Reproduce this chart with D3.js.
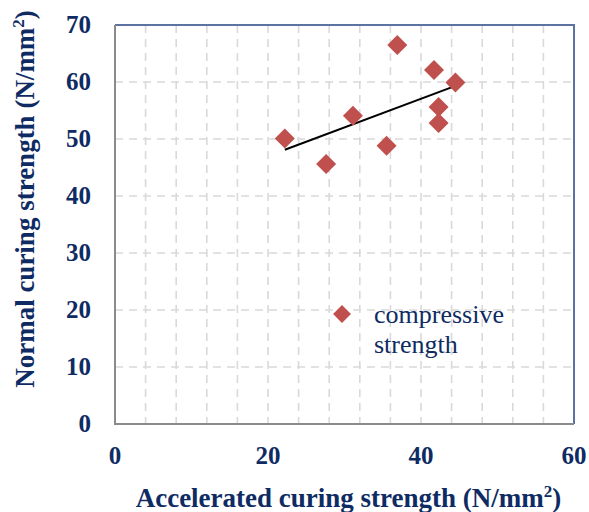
<!DOCTYPE html>
<html lang="en">
<head>
    <meta charset="UTF-8">
    <title>Normal vs accelerated curing strength</title>
    <style>
        body {
            margin: 0;
            background: #fff;
        }
        svg text {
            font-family: 'Liberation Serif', 'Times New Roman', serif;
            fill: #0e2b63;
        }
        .tick-label {
            font-size: 25px;
            font-weight: bold;
        }
        .axis-title {
            font-size: 27px;
            font-weight: bold;
        }
        .legend-text {
            font-size: 26px;
        }
    </style>
</head>
<body>
    <div id="chart"></div>
    <script src="https://d3js.org/d3.v7.min.js"></script>
    <script>
        // accelerated curing strength (x) and normal curing strength (y), N/mm2
        const accelerated = [22.2, 27.6, 31.1, 35.5, 36.9, 41.7, 44.5, 42.3, 42.3];
        const normal = [50.1, 45.6, 54.1, 48.8, 66.5, 62.1, 59.9, 55.6, 52.8];
        const xTicks = [0, 20, 40, 60];
        const yTicks = [0, 10, 20, 30, 40, 50, 60, 70];
        const xGrid = d3.range(4, 60, 4);
        const legendLabel = ["compressive", "strength"];

        const width = 589;
        const height = 512;
        const margin = {top: 25, right: 15, bottom: 88, left: 115};

        const svg = d3.select("#chart")
            .append("svg")
            .attr("width", width)
            .attr("height", height)
            .attr("font-family", "'Liberation Serif', 'Times New Roman', serif");

        const x = d3.scaleLinear()
            .domain([0, 60])
            .range([margin.left, width - margin.right]);

        const y = d3.scaleLinear()
            .domain([0, 70])
            .range([height - margin.bottom, margin.top]);

        // grid lines
        const grid = svg.append("g")
            .attr("stroke", "#d9d9d9")
            .attr("stroke-width", 1.6)
            .attr("stroke-dasharray", "8,6");

        grid.selectAll(".vg")
            .data(xGrid)
            .enter().append("line")
            .attr("x1", d => x(d)).attr("x2", d => x(d))
            .attr("y1", y(70)).attr("y2", y(0));

        grid.selectAll(".hg")
            .data(yTicks.slice(1, -1))
            .enter().append("line")
            .attr("x1", x(0)).attr("x2", x(60))
            .attr("y1", d => y(d)).attr("y2", d => y(d));

        // plot frame: blue top/right, grey axes
        svg.append("path")
            .attr("d", `M${x(0)},${y(70)}H${x(60)}V${y(0)}`)
            .attr("fill", "none")
            .attr("stroke", "#5b72a3")
            .attr("stroke-width", 2);

        svg.append("path")
            .attr("d", `M${x(0)},${y(70)}V${y(0)}H${x(60)}`)
            .attr("fill", "none")
            .attr("stroke", "#8a8a8a")
            .attr("stroke-width", 2);

        // tick labels
        svg.selectAll(".ytl")
            .data(yTicks)
            .enter().append("text")
            .attr("class", "tick-label")
            .attr("x", 91)
            .attr("y", d => y(d) + 8)
            .attr("text-anchor", "end")
            .text(d => d);

        svg.selectAll(".xtl")
            .data(xTicks)
            .enter().append("text")
            .attr("class", "tick-label")
            .attr("x", d => x(d))
            .attr("y", 464)
            .attr("text-anchor", "middle")
            .text(d => d);

        // axis titles
        const xt = svg.append("text")
            .attr("class", "axis-title")
            .attr("x", (x(0) + x(60)) / 2 + 4)
            .attr("y", 507)
            .attr("text-anchor", "middle");
        xt.append("tspan").text("Accelerated curing strength (N/mm");
        xt.append("tspan").attr("font-size", 17).attr("dy", -10).text("2");
        xt.append("tspan").attr("dy", 10).text(")");

        const yt = svg.append("text")
            .attr("class", "axis-title")
            .attr("transform", "translate(34,199) rotate(-90)")
            .attr("text-anchor", "middle");
        yt.append("tspan").text("Normal curing strength (N/mm");
        yt.append("tspan").attr("font-size", 17).attr("dy", -10).text("2");
        yt.append("tspan").attr("dy", 10).text(")");

        // linear trend line over the data range
        const pts = accelerated.map((v, i) => [v, normal[i]]);
        const mx = d3.mean(accelerated);
        const my = d3.mean(normal);
        const slope = d3.sum(pts, p => (p[0] - mx) * (p[1] - my)) / d3.sum(pts, p => (p[0] - mx) ** 2);
        const [x0, x1] = d3.extent(accelerated);

        svg.append("line")
            .attr("x1", x(x0)).attr("y1", y(my + slope * (x0 - mx)))
            .attr("x2", x(x1)).attr("y2", y(my + slope * (x1 - mx)))
            .attr("stroke", "#000")
            .attr("stroke-width", 2);

        // points
        const diamond = d3.symbol().type(d3.symbolSquare).size(200);
        svg.selectAll(".pt")
            .data(pts)
            .enter().append("path")
            .attr("d", diamond)
            .attr("transform", d => `translate(${x(d[0])},${y(d[1])}) rotate(45)`)
            .attr("fill", "#c0504d");

        // legend
        svg.append("path")
            .attr("d", d3.symbol().type(d3.symbolSquare).size(160))
            .attr("transform", "translate(342,314) rotate(45)")
            .attr("fill", "#c0504d");

        svg.selectAll(".lg")
            .data(legendLabel)
            .enter().append("text")
            .attr("class", "legend-text")
            .attr("x", 374)
            .attr("y", (d, i) => 323 + i * 30)
            .text(d => d);
    </script>
</body>
</html>
